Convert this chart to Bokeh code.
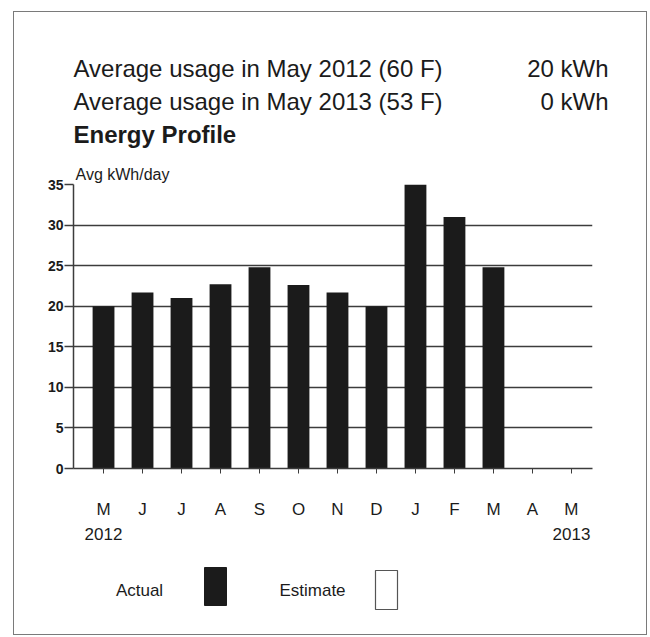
from bokeh.plotting import figure
from bokeh.models import Range1d, FixedTicker, LinearAxis, Title
from bokeh.layouts import column
from bokeh.core.properties import value
from bokeh.embed import file_html
from bokeh.resources import INLINE

# ---- data ----
months = ["M", "J", "J", "A", "S", "O", "N", "D", "J", "F", "M", "A", "M"]
year_marks = {0: "2012", 12: "2013"}
actual_kwh = [20.0, 21.7, 21.0, 22.7, 24.8, 22.6, 21.7, 20.0, 35.0, 31.0, 24.8, 0.0, 0.0]
y_ticks = [0, 5, 10, 15, 20, 25, 30, 35]
header_labels = ["Average usage in May 2012 (60 F)", "Average usage in May 2013 (53 F)"]
header_values = ["20 kWh", "0 kWh"]
subtitle = "Energy Profile"
y_title = "Avg kWh/day"
legend_items = ["Actual", "Estimate"]

FONT = "'Liberation Sans', Arial, sans-serif"
INK = "#1b1b1b"
GRID = "#3c3c3c"

# page geometry (content box inside the outer border)
X0, X1 = 14, 646
H_TOP, H_BOT = 12, 154      # header strip
C_BOT = 548                 # chart strip bottom
L_BOT = 634                 # legend strip bottom
W = X1 - X0


def strip(h_top, h_bot):
    f = figure(width=W, height=h_bot - h_top, output_backend="svg", toolbar_location=None,
               x_range=Range1d(X0, X1), y_range=Range1d(h_bot, h_top),
               min_border=0, min_border_left=0, min_border_right=0,
               min_border_top=0, min_border_bottom=0, frame_align=False)
    f.axis.visible = False
    f.grid.visible = False
    f.outline_line_color = None
    f.background_fill_color = "white"
    f.border_fill_color = "white"
    return f


# ---- header ----
hdr = strip(H_TOP, H_BOT)
hdr.text(x=[73, 73], y=[68, 101], text=header_labels, text_font=value(FONT),
         text_font_size="24px", text_color=INK, text_baseline="middle", text_align="left")
hdr.text(x=[608, 608], y=[68, 101], text=header_values, text_font=value(FONT),
         text_font_size="24px", text_color=INK, text_baseline="middle", text_align="right")
hdr.text(x=[73], y=[134], text=[subtitle], text_font=value(FONT), text_font_style="bold",
         text_font_size="24px", text_color=INK, text_baseline="middle", text_align="left")

# ---- chart ----
idx = list(range(len(months)))
p = figure(width=W, height=C_BOT - H_BOT, output_backend="svg", toolbar_location=None,
           x_range=Range1d(-0.77, 12.54), y_range=Range1d(0, 35),
           min_border_left=73 - X0, min_border_right=X1 - 592,
           min_border_top=184 - H_BOT, min_border_bottom=C_BOT - 468, frame_align=False)
p.outline_line_color = None
p.background_fill_color = "white"
p.border_fill_color = "white"
p.add_layout(Title(text=y_title, align="left", offset=2, standoff=3,
                   text_font=FONT, text_font_size="16px", text_font_style="normal",
                   text_color=INK), "above")

p.vbar(x=idx, top=actual_kwh, width=0.56, fill_color=INK, line_color=INK, line_width=0)

p.yaxis.ticker = FixedTicker(ticks=y_ticks)
p.yaxis.axis_line_color = GRID
p.yaxis.axis_line_width = 1.5
p.yaxis.major_tick_in = 0
p.yaxis.major_tick_out = 9
p.yaxis.major_tick_line_color = GRID
p.yaxis.major_tick_line_width = 1.5
p.yaxis.minor_tick_line_color = None
p.yaxis.major_label_standoff = 1
p.yaxis.major_label_text_font = FONT
p.yaxis.major_label_text_font_size = "14px"
p.yaxis.major_label_text_font_style = "bold"
p.yaxis.major_label_text_color = INK

p.xaxis.ticker = FixedTicker(ticks=idx)
p.xaxis.major_label_overrides = {i: m for i, m in enumerate(months)}
p.xaxis.axis_line_color = GRID
p.xaxis.axis_line_width = 1.5
p.xaxis.major_tick_in = 0
p.xaxis.major_tick_out = 5
p.xaxis.major_tick_line_color = GRID
p.xaxis.minor_tick_line_color = None
p.xaxis.major_label_standoff = 26
p.xaxis.major_label_text_font = FONT
p.xaxis.major_label_text_font_size = "17px"
p.xaxis.major_label_text_color = INK

yr = LinearAxis(ticker=FixedTicker(ticks=list(year_marks.keys())),
                major_label_overrides=dict(year_marks))
yr.axis_line_color = None
yr.major_tick_line_color = None
yr.minor_tick_line_color = None
yr.major_label_standoff = 0
yr.major_label_text_font = FONT
yr.major_label_text_font_size = "17px"
yr.major_label_text_color = INK
p.add_layout(yr, "below")

p.xgrid.grid_line_color = None
p.ygrid.ticker = FixedTicker(ticks=y_ticks)
p.ygrid.grid_line_color = GRID
p.ygrid.grid_line_width = 1.3

# ---- legend strip ----
leg = strip(C_BOT, L_BOT)
leg.text(x=[139, 312], y=[590, 590], text=legend_items, text_font=value(FONT),
         text_font_size="17px", text_color=INK, text_baseline="middle", text_align="center")
leg.quad(left=[204], right=[226], top=[567], bottom=[605], fill_color=INK, line_color=INK)
leg.quad(left=[375], right=[397], top=[570], bottom=[609], fill_color="white",
         line_color="#555555", line_width=1.2)

layout = column(hdr, p, leg, spacing=0, margin=(11, 0, 0, 13),
                styles={"border": "1px solid #7a7a7a"})

open("out.html", "w").write(file_html(layout, INLINE))
